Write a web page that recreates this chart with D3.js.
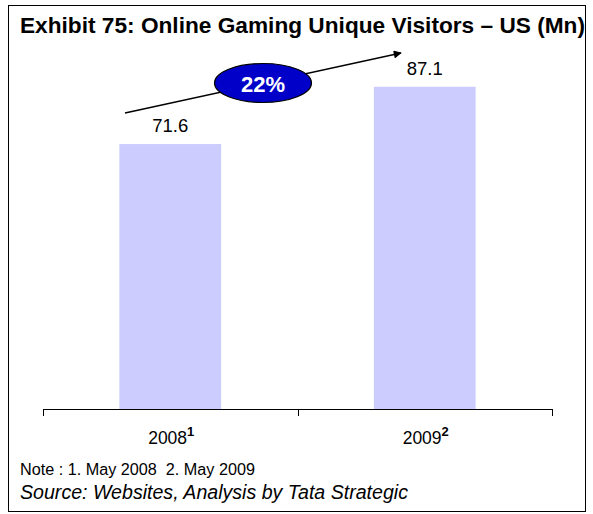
<!DOCTYPE html>
<html><head><meta charset="utf-8">
<script src="https://cdn.jsdelivr.net/npm/d3@7"></script>
<style>body{margin:0;background:#fff}svg{display:block}text{font-family:"Liberation Sans",Arial,sans-serif;white-space:pre}</style>
</head><body><svg id="c" width="593" height="514"></svg>
<script>
const categories = ["2008", "2009"];
const superscripts = ["1", "2"];
const values = [71.6, 87.1];
const growthLabel = "22%";
const titleText = "Exhibit 75: Online Gaming Unique Visitors \u2013 US (Mn)";
const noteText = "Note : 1. May 2008  2. May 2009";
const sourceText = "Source: Websites, Analysis by Tata Strategic";

const svg = d3.select("#c");
svg.append("rect").attr("x",8.5).attr("y",5.5).attr("width",577).attr("height",506)
  .attr("fill","#fff").attr("stroke","#000").attr("stroke-width",1);

svg.append("text").attr("x",20).attr("y",33).attr("font-size",22.5).attr("font-weight","bold")
  .attr("textLength",565).attr("lengthAdjust","spacingAndGlyphs")
  .attr("fill","#000").text(titleText);

const x = d3.scaleBand().domain(categories).range([43,552]).paddingInner(0.6).paddingOuter(0.3);
const y = d3.scaleLinear().domain([0,100]).range([409,39]);

svg.selectAll("rect.bar").data(values).join("rect").attr("class","bar")
  .attr("x",(d,i)=>x(categories[i])).attr("width",x.bandwidth())
  .attr("y",d=>y(d)).attr("height",d=>y(0)-y(d)).attr("fill","#ccccff");

// axis
const step = x.step();
const bounds = [43, 43+step, 552];
const ax = svg.append("g");
ax.append("line").attr("x1",43).attr("x2",552).attr("y1",y(0)+0.5).attr("y2",y(0)+0.5).attr("stroke","#000");
ax.selectAll("line.t").data(bounds).join("line").attr("class","t")
  .attr("x1",d=>Math.round(d)+0.5).attr("x2",d=>Math.round(d)+0.5)
  .attr("y1",y(0)).attr("y2",y(0)+7).attr("stroke","#000");

const lab = svg.selectAll("text.cat").data(categories).join("text").attr("class","cat")
  .attr("x",d=>x(d)+x.bandwidth()/2+1).attr("y",444).attr("text-anchor","middle")
  .attr("font-size",17.5).attr("fill","#000");
lab.append("tspan").text(d=>d);
lab.append("tspan").attr("dy",-8).attr("font-size",13).attr("font-weight","bold").text((d,i)=>superscripts[i]);

svg.selectAll("text.val").data(values).join("text").attr("class","val")
  .attr("x",(d,i)=>x(categories[i])+x.bandwidth()/2).attr("y",d=>y(d)-12)
  .attr("text-anchor","middle").attr("font-size",18.5).attr("fill","#000").text(d=>d.toFixed(1));

// growth arrow
const defs = svg.append("defs");
defs.append("marker").attr("id","ah").attr("viewBox","0 0 10 10").attr("refX",9).attr("refY",5)
  .attr("markerWidth",11).attr("markerHeight",8).attr("markerUnits","userSpaceOnUse").attr("orient","auto")
  .append("path").attr("d","M0,0L10,5L0,10z").attr("fill","#000");
svg.append("line").attr("x1",125).attr("y1",113).attr("x2",401).attr("y2",53)
  .attr("stroke","#000").attr("stroke-width",1.5).attr("marker-end","url(#ah)");
svg.append("ellipse").attr("cx",263).attr("cy",83).attr("rx",48.5).attr("ry",19.5)
  .attr("fill","#0000c8").attr("stroke","#000").attr("stroke-width",1.2);
svg.append("text").attr("x",263).attr("y",92).attr("text-anchor","middle").attr("font-size",22)
  .attr("font-weight","bold").attr("fill","#fff").text(growthLabel);

svg.append("text").attr("x",20).attr("y",475).attr("font-size",16).attr("fill","#000")
  .attr("textLength",235).attr("lengthAdjust","spacingAndGlyphs").text(noteText);
svg.append("text").attr("x",20).attr("y",499).attr("font-size",19.5).attr("font-style","italic").attr("fill","#000")
  .attr("textLength",388).attr("lengthAdjust","spacingAndGlyphs").text(sourceText);
</script></body></html>
